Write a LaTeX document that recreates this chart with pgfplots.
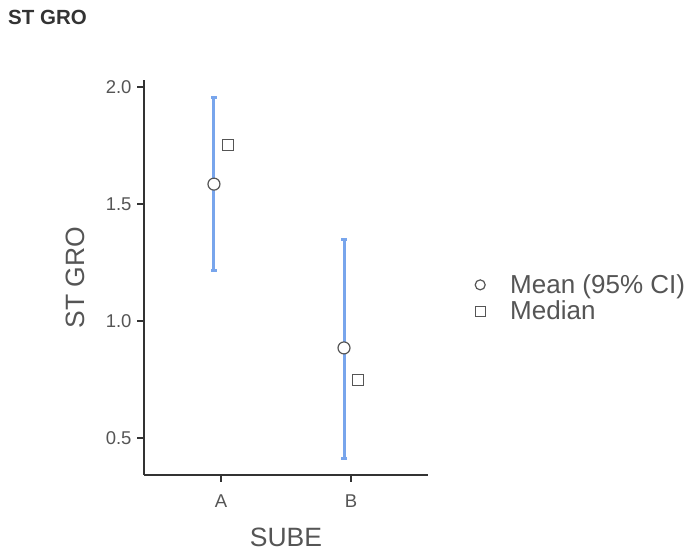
\documentclass[border=0pt]{standalone}
\usepackage{pgfplots}
\pgfplotsset{compat=1.18}
\usepackage{fontspec}
\setmainfont{Liberation Sans}
\definecolor{txt}{HTML}{555555}
\definecolor{axl}{HTML}{333333}
\definecolor{cib}{HTML}{78A5EC}
\definecolor{mk}{HTML}{555555}
\begin{document}
\begin{tikzpicture}[x=1bp,y=1bp]
\useasboundingbox (0,0) rectangle (685,553);
\node[anchor=west, text=axl, font=\fontsize{20.5bp}{24bp}\selectfont\bfseries, inner sep=0pt] at (8,536) {ST GRO};
\begin{axis}[
  at={(144bp,78bp)}, anchor=south west,
  scale only axis, width=284bp, height=395bp,
  xmin=-0.592, xmax=1.592, ymin=0.342, ymax=2.030,
  axis lines=left, axis line style={-, axl, line width=1.5bp},
  xtick={0,1}, xticklabels={A,B},
  ytick={0.5,1,1.5,2}, yticklabels={0.5,1.0,1.5,2.0},
  tick style={axl, line width=1.5bp}, tick align=outside,
  major tick length=7bp,
  tick label style={font=\fontsize{18.5bp}{22bp}\selectfont, text=txt},
  xticklabel style={yshift=-9bp},
  yticklabel style={xshift=-2bp},
  xlabel={SUBE}, ylabel={ST GRO},
  label style={font=\fontsize{26.5bp}{30bp}\selectfont, text=txt},
  xlabel style={yshift=-14bp},
  ylabel style={yshift=14bp},
  clip=false,
  legend style={at={(axis description cs:1,0.448)}, anchor=west, xshift=40bp, draw=none, fill=none,
    font=\fontsize{26bp}{30bp}\selectfont, text=txt, row sep=2bp, legend cell align=left,
    inner sep=0pt, nodes={inner sep=2bp}},
  legend image code/.code={\path[draw=none, fill=none] (0bp,-3bp) rectangle (40bp,3bp); \draw[#1, mark size=5bp] plot coordinates {(12bp,0bp)};},
]
\addplot[forget plot, draw=none, mark=none,
  error bars/.cd, y dir=both, y explicit,
  error bar style={draw=cib, line width=3bp},
  error mark options={draw=cib, line width=3bp, mark size=3bp, rotate=90}]
  coordinates {(-0.054,1.585) -= (0,0.371) += (0,0.372)
               (0.946,0.885) -= (0,0.471) += (0,0.465)};
\addplot[only marks, mark=*, mark size=6bp, mark options={draw=mk, fill=white, line width=1.2bp}]
  coordinates {(-0.054,1.585) (0.946,0.885)};
\addlegendentry{Mean (95\% CI)}
\addplot[only marks, mark=square*, mark size=5.5bp, mark options={draw=mk, fill=white, line width=1.2bp}]
  coordinates {(0.054,1.752) (1.054,0.748)};
\addlegendentry{Median}
\end{axis}
\end{tikzpicture}
\end{document}
